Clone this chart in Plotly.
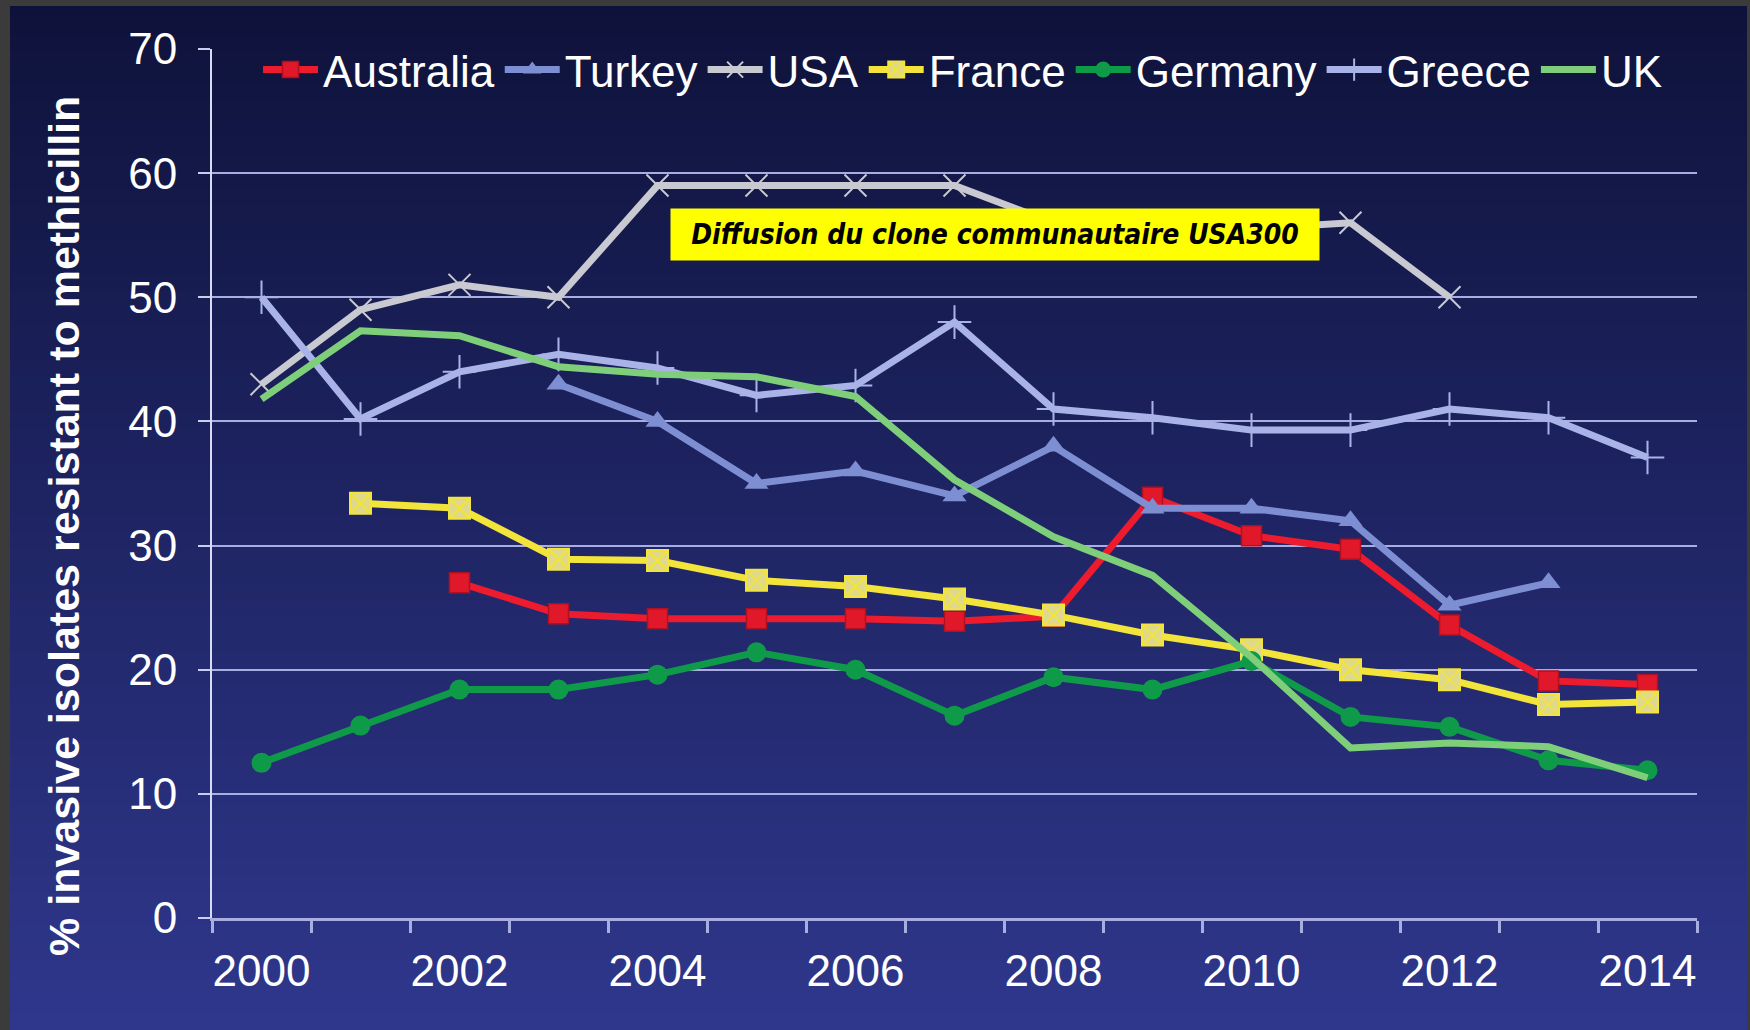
import plotly.graph_objects as go

years = list(range(2000, 2015))
australia = [None, None, 27.0, 24.5, 24.1, 24.1, 24.1, 23.9, 24.3, 33.9, 30.8, 29.7, 23.6, 19.1, 18.8]
turkey = [None, None, None, 43.0, 40.0, 35.0, 36.0, 34.0, 38.0, 33.0, 33.0, 32.0, 25.2, 27.0, None]
usa = [43.0, 49.0, 51.0, 50.0, 59.0, 59.0, 59.0, 59.0, 56.0, 56.0, 55.5, 56.0, 50.0, None, None]
france = [None, 33.4, 33.0, 28.9, 28.8, 27.2, 26.7, 25.7, 24.4, 22.8, 21.6, 20.0, 19.2, 17.2, 17.4]
germany = [12.5, 15.5, 18.4, 18.4, 19.6, 21.4, 20.0, 16.3, 19.4, 18.4, 20.7, 16.2, 15.4, 12.7, 11.9]
greece = [50.0, 40.2, 44.0, 45.4, 44.3, 42.1, 42.9, 48.0, 41.0, 40.3, 39.3, 39.3, 41.0, 40.3, 37.1]
uk = [41.8, 47.3, 46.9, 44.4, 43.8, 43.6, 42.0, 35.3, 30.7, 27.6, 21.0, 13.7, 14.1, 13.8, 11.3]

x_labels = [str(y) for y in range(2000, 2015, 2)]
y_ticks = list(range(0, 71, 10))
annotation_text = "Diffusion du clone communautaire USA300"
y_title = "% invasive isolates resistant to methicillin"

W, H = 1750, 1030
L, R, T, B = 212, 53, 49, 112

FONT = "Liberation Sans, Arial, sans-serif"

fig = go.Figure()

def add(name, vals, color, symbol=None, msize=16, mcolor=None, mline=None, mlinew=0):
    mode = "lines+markers" if symbol else "lines"
    marker = None
    if symbol:
        marker = dict(symbol=symbol, size=msize, color=mcolor or color,
                      line=dict(color=mline or color, width=mlinew))
    fig.add_trace(go.Scatter(x=years, y=vals, name=name, mode=mode,
                             line=dict(color=color, width=7),
                             marker=marker, connectgaps=False))

add("Australia", australia, "#ec1c2e", "square", 20, "#e0182a", "#b01020", 1.5)
add("Turkey", turkey, "#7e8ed2", "triangle-up", 21, "#7e8ed2")
add("USA", usa, "#c9c9d2", "x-thin", 22, None, "#c9c9d2", 2)
add("France", france, "#f2e43a", "square-x", 21, "#ded98c", "#f2e43a", 2)
add("Germany", germany, "#0f9a4a", "circle", 20, "#0f9a4a")
add("Greece", greece, "#aab3e8", "cross-thin", 24, None, "#aab3e8", 2)
add("UK", uk, "#7fce7a")

pw = W - L - R
ph = H - T - B
def px_x(p):
    return (p - L) / pw
def px_y(p):
    return (H - B - p) / ph

# gradient background bands
shapes = []
top = (14, 18, 58)
bot = (47, 55, 140)
n = 60
for i in range(n):
    f = i / (n - 1)
    c = tuple(int(round(top[k] + (bot[k] - top[k]) * f)) for k in range(3))
    shapes.append(dict(type="rect", xref="paper", yref="paper",
                       x0=px_x(-5), x1=px_x(W + 5),
                       y0=px_y((i + 1) * H / n + 1), y1=px_y(i * H / n - 1),
                       fillcolor="rgb(%d,%d,%d)" % c, line=dict(width=0), layer="below"))
grey = "#3b3b3b"
for (x0, x1, y0, y1) in [(0, 10, 0, H), (0, W, 0, 6), (W - 3, W, 0, H)]:
    shapes.append(dict(type="rect", xref="paper", yref="paper",
                       x0=px_x(x0), x1=px_x(x1), y0=px_y(y1), y1=px_y(y0),
                       fillcolor=grey, line=dict(width=0), layer="above"))

fig.update_layout(
    width=W, height=H,
    margin=dict(l=L, r=R, t=T, b=B),
    paper_bgcolor="rgb(14,18,58)",
    plot_bgcolor="rgba(0,0,0,0)",
    font=dict(family=FONT, color="white", size=44),
    shapes=shapes,
    showlegend=True,
    legend=dict(orientation="h", x=0.031, y=px_y(70), xanchor="left", yanchor="middle",
                bgcolor="rgba(0,0,0,0)", font=dict(size=44, color="white", family=FONT),
                itemwidth=55, traceorder="normal"),
    annotations=[
        dict(text="<b><i>" + annotation_text + "</i></b>", xref="paper", yref="paper",
             x=px_x(995), y=px_y(234), xanchor="center", yanchor="middle",
             showarrow=False, bgcolor="#ffff00", borderpad=9, width=630,
             font=dict(family="Comic Sans MS, DejaVu Sans Condensed, DejaVu Sans", size=28, color="black")),
        dict(text="<b>" + y_title + "</b>", xref="paper", yref="paper",
             x=px_x(64), y=px_y(526), xanchor="center", yanchor="middle",
             textangle=-90, showarrow=False,
             font=dict(family=FONT, size=43, color="white")),
    ],
)

fig.update_xaxes(
    range=[1999.5, 2014.5], tickmode="array", tickvals=[int(v) for v in x_labels],
    ticktext=x_labels, ticks="", showgrid=False, zeroline=False,
    showline=True, linecolor="#a9aee2", linewidth=3,
    tickfont=dict(size=44, color="white", family=FONT),
    ticklabelstandoff=12,
    minor=dict(tickmode="array", tickvals=[1999.5 + k for k in range(16)],
               ticks="outside", ticklen=12, tickwidth=3, tickcolor="#a9aee2", showgrid=False),
)
fig.update_yaxes(
    range=[0, 70], tickmode="array", tickvals=y_ticks, ticks="outside", ticklen=12,
    tickwidth=2, tickcolor="#c9cdf0",
    showgrid=True, gridcolor="#a9aee2", gridwidth=2, zeroline=False,
    showline=True, linecolor="#d8dbf4", linewidth=2,
    tickfont=dict(size=44, color="white", family=FONT),
    ticklabelstandoff=12,
)

fig.write_html("out.html")
